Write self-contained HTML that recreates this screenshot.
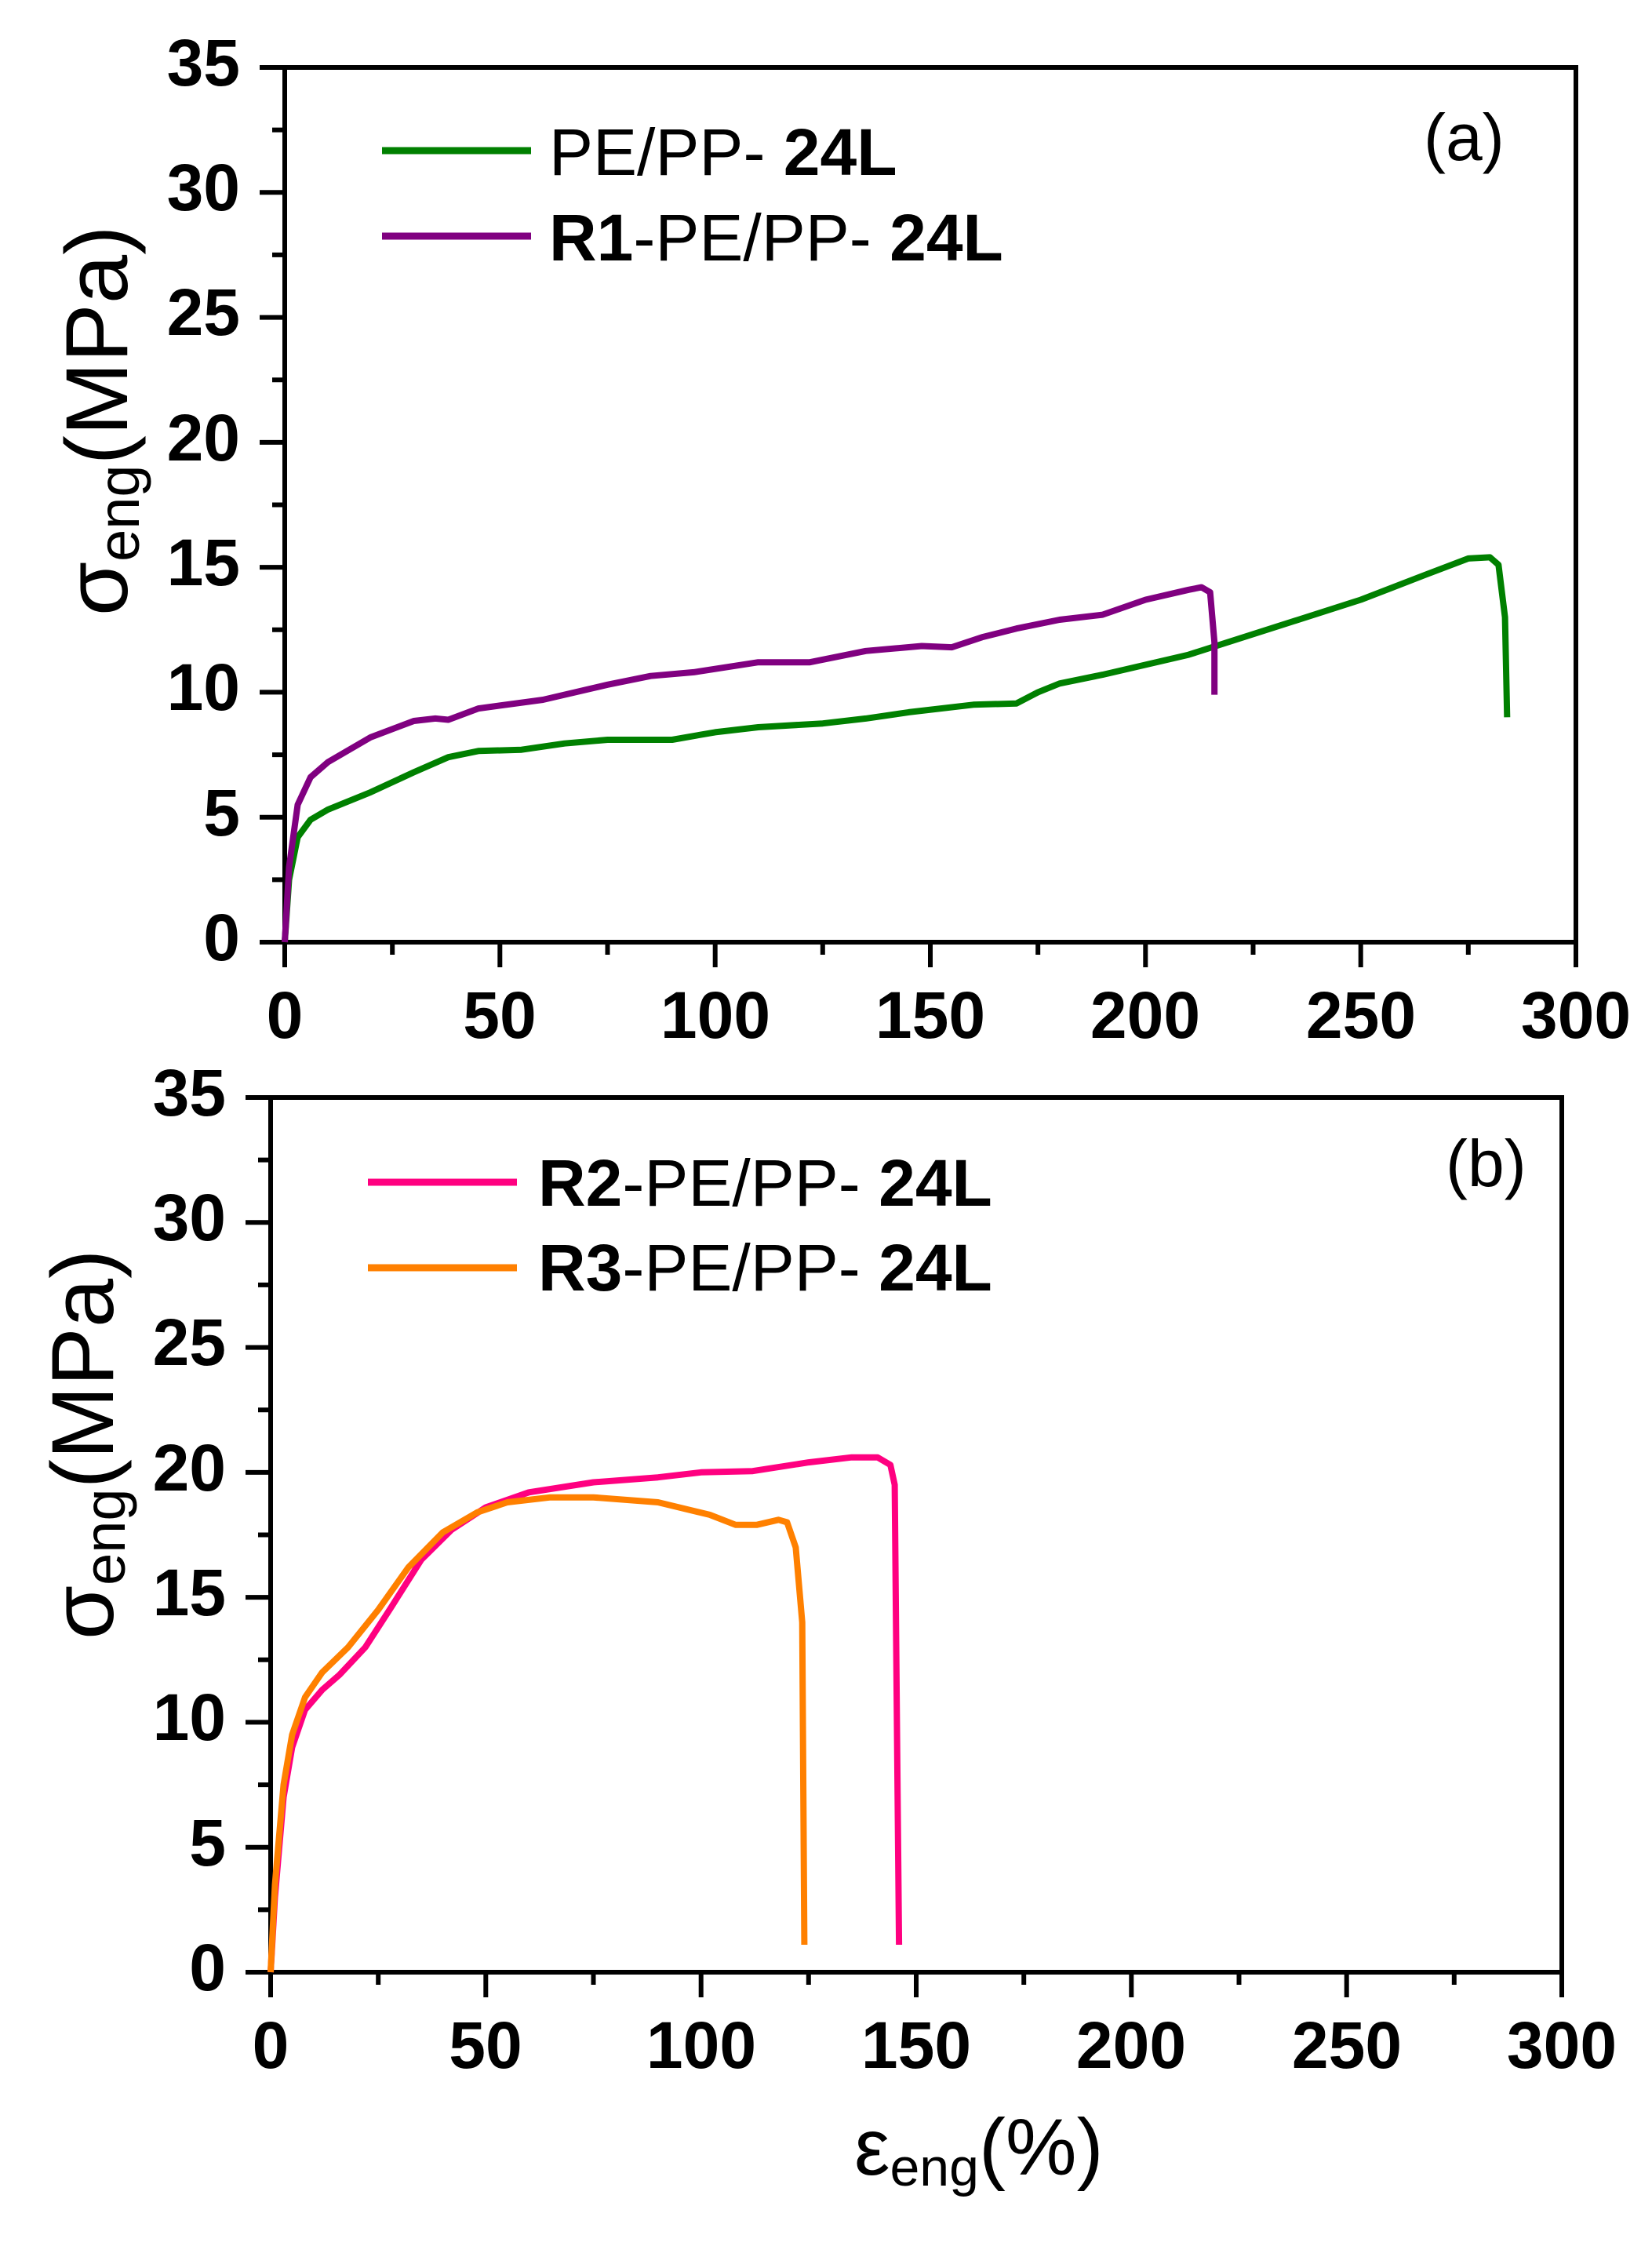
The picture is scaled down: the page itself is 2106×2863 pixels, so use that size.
<!DOCTYPE html>
<html><head><meta charset="utf-8"><style>
html,body{margin:0;padding:0;background:#fff;}
svg{display:block;}
text{font-family:"Liberation Sans",Arial,sans-serif;}
</style></head><body>
<svg xmlns="http://www.w3.org/2000/svg" width="2106" height="2863" viewBox="0 0 2106 2863">
<rect width="2106" height="2863" fill="#fff"/>

<!-- Panel A frame and ticks -->
<g stroke="#000" stroke-width="6" fill="none">
<rect x="363" y="86" width="1646" height="1115"/>
<path d="M363,1201v32 M500.2,1201v16 M637.3,1201v32 M774.5,1201v16 M911.7,1201v32 M1048.8,1201v16 M1186,1201v32 M1323.2,1201v16 M1460.3,1201v32 M1597.5,1201v16 M1734.7,1201v32 M1871.8,1201v16 M2009,1201v32"/>
<path d="M363,1201h-32 M363,1121.4h-16 M363,1041.7h-32 M363,962.1h-16 M363,882.4h-32 M363,802.8h-16 M363,723.1h-32 M363,643.5h-16 M363,563.9h-32 M363,484.2h-16 M363,404.6h-32 M363,324.9h-16 M363,245.3h-32 M363,165.6h-16 M363,86h-32"/>
</g>
<!-- Panel B frame and ticks -->
<g stroke="#000" stroke-width="6" fill="none">
<rect x="345" y="1399" width="1646" height="1115"/>
<path d="M345,2514v32 M482.2,2514v16 M619.3,2514v32 M756.5,2514v16 M893.7,2514v32 M1030.8,2514v16 M1168,2514v32 M1305.2,2514v16 M1442.3,2514v32 M1579.5,2514v16 M1716.7,2514v32 M1853.8,2514v16 M1991,2514v32"/>
<path d="M345,2514h-32 M345,2434.4h-16 M345,2354.7h-32 M345,2275.1h-16 M345,2195.4h-32 M345,2115.8h-16 M345,2036.1h-32 M345,1956.5h-16 M345,1876.9h-32 M345,1797.2h-16 M345,1717.6h-32 M345,1637.9h-16 M345,1558.3h-32 M345,1478.6h-16 M345,1399h-32"/>
</g>

<!-- Panel A tick labels -->
<g font-size="84" font-weight="bold" text-anchor="end">
<text x="306" y="1224">0</text><text x="306" y="1065">5</text><text x="306" y="905">10</text><text x="306" y="746">15</text><text x="306" y="587">20</text><text x="306" y="427">25</text><text x="306" y="268">30</text><text x="306" y="109">35</text>
</g>
<g font-size="84" font-weight="bold" text-anchor="middle">
<text x="363" y="1323">0</text><text x="637" y="1323">50</text><text x="912" y="1323">100</text><text x="1186" y="1323">150</text><text x="1460" y="1323">200</text><text x="1735" y="1323">250</text><text x="2009" y="1323">300</text>
</g>
<!-- Panel B tick labels -->
<g font-size="84" font-weight="bold" text-anchor="end">
<text x="288" y="2537">0</text><text x="288" y="2378">5</text><text x="288" y="2218">10</text><text x="288" y="2059">15</text><text x="288" y="1900">20</text><text x="288" y="1740">25</text><text x="288" y="1581">30</text><text x="288" y="1422">35</text>
</g>
<g font-size="84" font-weight="bold" text-anchor="middle">
<text x="345" y="2636">0</text><text x="619" y="2636">50</text><text x="894" y="2636">100</text><text x="1168" y="2636">150</text><text x="1442" y="2636">200</text><text x="1717" y="2636">250</text><text x="1991" y="2636">300</text>
</g>

<!-- Y titles -->
<text transform="translate(162,785) rotate(-90)" font-size="112">σ<tspan font-size="74" dy="15">eng</tspan><tspan dy="-15">(MPa)</tspan></text>
<text transform="translate(144,2090) rotate(-90)" font-size="112">σ<tspan font-size="74" dy="15">eng</tspan><tspan dy="-15">(MPa)</tspan></text>
<!-- X title -->
<text x="1089" y="2772" font-size="102">ε<tspan font-size="68" dy="14">eng</tspan><tspan dy="-14">(%)</tspan></text>

<!-- Legends -->
<line x1="487" y1="192" x2="677" y2="192" stroke="#008000" stroke-width="9"/>
<text x="700" y="223" font-size="84">PE/PP- <tspan font-weight="bold">24L</tspan></text>
<line x1="487" y1="301" x2="677" y2="301" stroke="#800080" stroke-width="9"/>
<text x="700" y="332" font-size="84"><tspan font-weight="bold">R1</tspan>-PE/PP- <tspan font-weight="bold">24L</tspan></text>
<text x="1815" y="204" font-size="84">(a)</text>

<line x1="469" y1="1507" x2="659" y2="1507" stroke="#FF0080" stroke-width="9"/>
<text x="686" y="1537" font-size="84"><tspan font-weight="bold">R2</tspan>-PE/PP- <tspan font-weight="bold">24L</tspan></text>
<line x1="469" y1="1616" x2="659" y2="1616" stroke="#FF8000" stroke-width="9"/>
<text x="686" y="1645" font-size="84"><tspan font-weight="bold">R3</tspan>-PE/PP- <tspan font-weight="bold">24L</tspan></text>
<text x="1843" y="1512" font-size="84">(b)</text>

<!-- Curves -->
<g fill="none" stroke-width="8" stroke-linejoin="round">
<path stroke="#008000" d="M363,1201 L368.5,1121.4 L379.5,1067.2 L395.9,1044.9 L417.9,1032.1 L472.7,1009.8 L527.6,984.4 L571.5,965.2 L609.9,957.3 L664.8,955.7 L719.7,947.7 L774.5,943 L856.8,943 L911.7,933.4 L966.6,927 L1048.9,922.2 L1103.7,915.9 L1158.6,907.9 L1240.9,898.3 L1295.8,896.7 L1323.2,882.4 L1350.7,871.3 L1405.5,860.1 L1515.3,834.6 L1625,799.6 L1734.8,764.5 L1817.1,732.7 L1871.9,711.9 L1899.4,710.4 L1910.3,719.9 L1918.6,786.8 L1921.3,914.3"/>
<path stroke="#800080" d="M363,1201 L368.5,1105.4 L379.5,1025.8 L395.9,990.7 L417.9,971.6 L472.7,939.7 L527.6,919 L555,915.9 L571.5,917.5 L609.9,903.1 L692.2,892 L774.5,872.8 L829.4,861.7 L884.3,856.9 L966.6,844.2 L1032.4,844.2 L1103.7,829.8 L1175.1,823.5 L1213.5,825.1 L1251.9,812.3 L1295.8,801.2 L1350.7,790 L1405.5,783.6 L1460.4,764.5 L1515.3,751.8 L1531.7,748.6 L1542.7,755 L1548.2,818.7 L1548.2,885.6"/>
<path stroke="#FF0080" d="M345,2514 L350.5,2418.4 L361.5,2291 L372.4,2227.3 L388.9,2179.5 L410.8,2154 L432.8,2134.9 L465.7,2099.8 L498.6,2048.9 L537,1988.3 L575.5,1950.1 L619.4,1921.4 L674.2,1902.3 L756.5,1889.5 L838.8,1883.2 L893.7,1876.8 L959.5,1875.2 L1030.9,1864.1 L1085.7,1857.7 L1118.7,1857.7 L1135.1,1867.3 L1140.6,1892.7 L1143.4,2195.4 L1146.1,2479"/>
<path stroke="#FF8000" d="M345,2514 L350.5,2402.5 L361.5,2275.1 L372.4,2211.3 L388.9,2163.5 L410.8,2131.7 L443.8,2099.8 L482.2,2052 L520.6,1997.9 L564.5,1953.3 L608.4,1927.8 L646.8,1915 L701.7,1908.7 L756.5,1908.7 L838.8,1915 L904.7,1930.9 L937.6,1943.7 L965,1943.7 L992.5,1937.3 L1003.4,1940.5 L1014.4,1972.4 L1022.7,2068 L1025.4,2479"/>
</g>
</svg>
</body></html>
